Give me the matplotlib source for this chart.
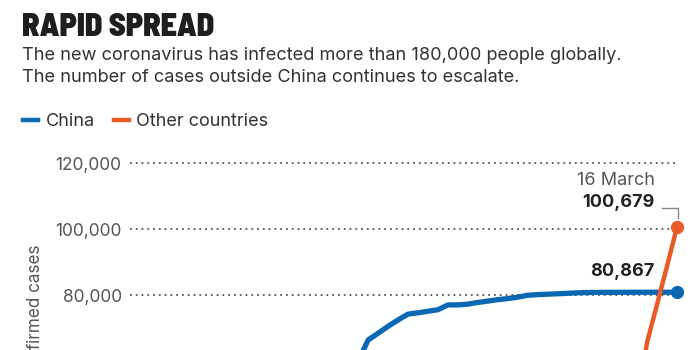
import datetime as dt
import matplotlib
matplotlib.use("Agg")
import matplotlib.pyplot as plt
import matplotlib.dates as mdates

# Daily cumulative confirmed cases, 22 January - 16 March
start = dt.date(2020, 1, 22)
china = [548, 643, 920, 1406, 2075, 2877, 5509, 6087, 8141, 9802,
         11891, 16630, 19716, 23707, 27440, 30587, 34110, 36814, 39829, 42354,
         44386, 44759, 59895, 66358, 68413, 70513, 72434, 74211, 74619, 75077,
         75550, 77001, 77022, 77241, 77754, 78166, 78600, 78928, 79356, 79932,
         80136, 80261, 80386, 80537, 80690, 80770, 80800, 80820, 80835, 80845,
         80852, 80857, 80860, 80864, 80867]
other = [7, 10, 21, 32, 53, 65, 78, 92, 118, 153,
         173, 183, 188, 212, 227, 265, 317, 343, 361, 457,
         476, 523, 538, 595, 685, 780, 896, 999, 1076, 1228,
         1497, 1762, 2069, 2455, 2918, 3644, 4683, 5845, 7125, 8785,
         10597, 12665, 15063, 17835, 21210, 24895, 28910, 32860, 38020, 45300,
         48000, 65700, 77200, 88800, 100679]
dates = [start + dt.timedelta(days=i) for i in range(len(china))]

y_ticks = [80000, 100000, 120000]
y_tick_labels = ["80,000", "100,000", "120,000"]

BLUE = "#0a67b2"
ORANGE = "#e95a28"
SANS = ["Inter", "Lato", "DejaVu Sans"]
NARROW = ["Barlow Semi Condensed", "Barlow Condensed", "Roboto Condensed",
          "Oswald", "Liberation Sans Narrow", "DejaVu Sans"]

W, H = 700, 350
fig = plt.figure(figsize=(7, 3.5), dpi=100)

# Axes extends below the canvas: zero sits at 558.6 px from the top
ymax = 122000
y0_px, y120_px = 558.6, 163.3
bottom = (H - y0_px) / H
height = ((y0_px - y120_px) / H) * ymax / 120000
left_px, right_px = 130, 678
ax = fig.add_axes([left_px / W, bottom, (right_px - left_px) / W, height])

d0 = mdates.date2num(dates[0])
d1 = mdates.date2num(dates[-1])
ax.set_xlim(d0 - 0.9, d1 + 0.1)
ax.set_ylim(0, ymax)

for y in y_ticks:
    ax.axhline(y, color="#555555", lw=1.3, ls=(0, (1, 2.2)), zorder=1)

ax.plot(dates, china, color=BLUE, lw=3.8, solid_capstyle="round",
        solid_joinstyle="round", zorder=3)
ax.plot(dates, other, color=ORANGE, lw=3.2, solid_capstyle="round",
        solid_joinstyle="round", zorder=4)
ax.plot([dates[-1]], [china[-1]], "o", color=BLUE, ms=8.5, zorder=5, clip_on=False)
ax.plot([dates[-1]], [other[-1]], "o", color=ORANGE, ms=8.5, zorder=5, clip_on=False)

ax.set_yticks(y_ticks)
ax.set_yticklabels(y_tick_labels)
ax.tick_params(axis="y", length=0, pad=6, labelsize=12.5, labelcolor="#555555")
for lab in ax.get_yticklabels():
    lab.set_family(SANS)
ax.set_xticks([])
for s in ax.spines.values():
    s.set_visible(False)

# Value annotations
ax.annotate("80,867", xy=(dates[-1], china[-1]), xytext=(-23, 12),
            textcoords="offset pixels", ha="right", va="bottom",
            fontsize=13, fontweight="bold", color="#222222", family=SANS)
ax.annotate("100,679", xy=(dates[-1], other[-1]), xytext=(-23, 16),
            textcoords="offset pixels", ha="right", va="bottom",
            fontsize=13, fontweight="bold", color="#222222", family=SANS)
ax.annotate("16 March", xy=(dates[-1], other[-1]), xytext=(-22, 38),
            textcoords="offset pixels", ha="right", va="bottom",
            fontsize=13, color="#555555", family=SANS)
# leader from the label to the orange point
fig.lines.append(plt.Line2D([662 / W, 678 / W, 678 / W],
                            [(H - 208) / H, (H - 208) / H, (H - 218) / H],
                            transform=fig.transFigure, color="#888888", lw=1))

fig.text(35 / W, (H - 244) / H, "Confirmed cases", rotation=90,
         ha="center", va="top", fontsize=12.3, color="#555555", family=SANS)

# Header
fig.text(22 / W, (H - 36) / H, "RAPID SPREAD", fontsize=23, fontweight=900,
         color="#1e1e1e", family=NARROW, va="baseline")
fig.text(22 / W, (H - 60) / H,
         "The new coronavirus has infected more than 180,000 people globally.",
         fontsize=13.1, color="#333333", family=SANS, va="baseline")
fig.text(22 / W, (H - 82) / H,
         "The number of cases outside China continues to escalate.",
         fontsize=13.1, color="#333333", family=SANS, va="baseline")

# Legend
fig.lines.append(plt.Line2D([23 / W, 38 / W], [(H - 119.5) / H] * 2,
                            transform=fig.transFigure, color=BLUE, lw=3.2))
fig.text(46 / W, (H - 126) / H, "China", fontsize=13, color="#333333",
         family=SANS, va="baseline")
fig.lines.append(plt.Line2D([114 / W, 129 / W], [(H - 119.5) / H] * 2,
                            transform=fig.transFigure, color=ORANGE, lw=3.2))
fig.text(136 / W, (H - 126) / H, "Other countries", fontsize=13,
         color="#333333", family=SANS, va="baseline")

fig.savefig("out.png", dpi=100)
